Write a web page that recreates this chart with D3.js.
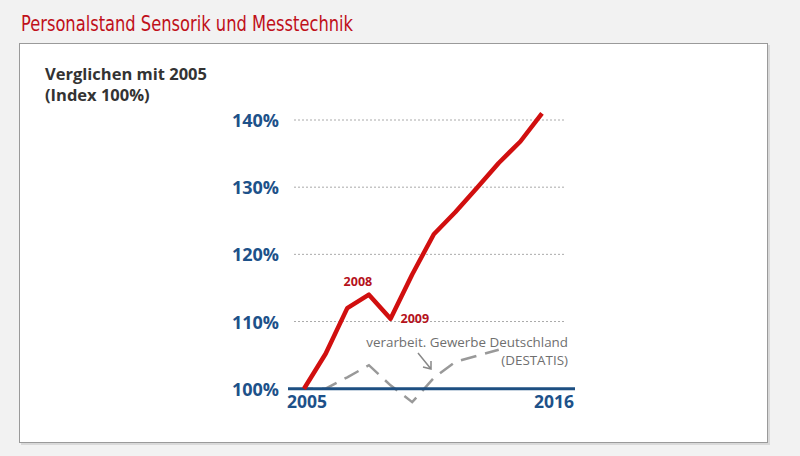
<!DOCTYPE html>
<html>
<head>
<meta charset="utf-8">
<script src="https://cdn.jsdelivr.net/npm/d3@7"></script>
<style>
  body { margin: 0; background: #f2f2f2; }
  svg { display: block; }
</style>
</head>
<body>
<script>
// data
var years = [2005, 2006, 2007, 2008, 2009, 2010, 2011, 2012, 2013, 2014, 2015, 2016];
var sensorik = [100, 105.2, 112, 114, 110.4, 117, 123, 126.3, 129.9, 133.6, 136.8, 141];
var gewerbeYears = [2005, 2006, 2007, 2008, 2009, 2010, 2011, 2012, 2013, 2014];
var gewerbe = [100, 100, 101.7, 103.5, 100.5, 98, 101.6, 104, 104.9, 105.8];
var yTicks = [100, 110, 120, 130, 140];
var xLabels = ["2005", "2016"];

var W = 800, H = 456;
var svg = d3.select("body").append("svg").attr("width", W).attr("height", H);

// background + panel
svg.append("rect").attr("width", W).attr("height", H).attr("fill", "#f2f2f2");
svg.append("rect").attr("x", 21).attr("y", 45).attr("width", 749).attr("height", 400).attr("fill", "#d9d9d9");
svg.append("rect").attr("x", 19.5).attr("y", 43.5).attr("width", 748).attr("height", 399)
    .attr("fill", "#fff").attr("stroke", "#9a9a9a").attr("stroke-width", 1);

// title (condensed look)
svg.append("text")
    .attr("x", 21).attr("y", 31)
    .attr("fill", "#c0101a")
    .attr("font-family", "'Liberation Sans Narrow', 'DejaVu Sans Condensed', sans-serif")
    .attr("font-size", 22)
    .attr("textLength", 332)
    .attr("lengthAdjust", "spacingAndGlyphs")
    .text("Personalstand Sensorik und Messtechnik");

// subtitle
svg.append("text")
    .attr("fill", "#333").attr("font-family", "'Open Sans', sans-serif")
    .attr("font-weight", "bold").attr("font-size", 16.5)
    .selectAll("tspan")
    .data(["Verglichen mit 2005", "(Index 100%)"])
    .enter().append("tspan")
    .attr("x", 45)
    .attr("y", function(d, i){ return 80 + i * 21; })
    .text(function(d){ return d; });

var x = d3.scaleLinear().domain([2005, 2016]).range([304, 542]);
var y = d3.scaleLinear().domain([100, 140]).range([388.7, 120]);

// grid lines
svg.selectAll("line.grid")
    .data(yTicks.filter(function(d){ return d > 100; }))
    .enter().append("line")
    .attr("class", "grid")
    .attr("x1", 294).attr("x2", 564)
    .attr("y1", function(d){ return y(d); })
    .attr("y2", function(d){ return y(d); })
    .attr("stroke", "#aaa").attr("stroke-width", 1)
    .attr("stroke-dasharray", "2,2");

// y tick labels
svg.selectAll("text.ytick")
    .data(yTicks)
    .enter().append("text")
    .attr("class", "ytick")
    .attr("x", 279)
    .attr("y", function(d){ return y(d); })
    .attr("text-anchor", "end")
    .attr("dominant-baseline", "central")
    .attr("fill", "#1d5189")
    .attr("font-family", "'Open Sans', sans-serif")
    .attr("font-weight", "bold").attr("font-size", 18)
    .text(function(d){ return d + "%"; });

// gray dashed line (verarbeitendes Gewerbe)
var grayLine = d3.line()
    .x(function(d, i){ return x(gewerbeYears[i]); })
    .y(function(d){ return y(d); });
svg.append("path")
    .datum(gewerbe)
    .attr("d", grayLine)
    .attr("fill", "none")
    .attr("stroke", "#999")
    .attr("stroke-width", 2.5)
    .attr("stroke-dasharray", "16,9")
    .attr("stroke-dashoffset", -18);

// base axis line
svg.append("line")
    .attr("x1", 288).attr("x2", 575)
    .attr("y1", y(100)).attr("y2", y(100))
    .attr("stroke", "#1d4f82").attr("stroke-width", 3);

// x labels
svg.selectAll("text.xlab")
    .data(xLabels)
    .enter().append("text")
    .attr("class", "xlab")
    .attr("x", function(d, i){ return i === 0 ? 287 : 574; })
    .attr("y", 408)
    .attr("text-anchor", function(d, i){ return i === 0 ? "start" : "end"; })
    .attr("fill", "#1d5189")
    .attr("font-family", "'Open Sans', sans-serif")
    .attr("font-weight", "bold").attr("font-size", 17.5)
    .text(function(d){ return d; });

// red line
var redLine = d3.line()
    .x(function(d, i){ return x(years[i]); })
    .y(function(d){ return y(d); });
svg.append("path")
    .datum(sensorik)
    .attr("d", redLine)
    .attr("fill", "none")
    .attr("stroke", "#d10f0f")
    .attr("stroke-width", 4.5)
    .attr("stroke-linejoin", "round");

// 2008 / 2009 labels
svg.append("text")
    .attr("x", x(2008) - 11).attr("y", y(114) - 9)
    .attr("text-anchor", "middle")
    .attr("fill", "#b5121b")
    .attr("font-family", "'Open Sans', sans-serif")
    .attr("font-weight", "bold").attr("font-size", 12.5)
    .text("2008");
svg.append("text")
    .attr("x", x(2009) + 10).attr("y", y(110.4) + 4)
    .attr("text-anchor", "start")
    .attr("fill", "#b5121b")
    .attr("font-family", "'Open Sans', sans-serif")
    .attr("font-weight", "bold").attr("font-size", 12.5)
    .text("2009");

// annotation
svg.append("text")
    .attr("x", 568).attr("y", 347)
    .attr("text-anchor", "end")
    .attr("fill", "#6f6f6f")
    .attr("font-family", "'Open Sans', sans-serif")
    .attr("font-size", 13.4)
    .text("verarbeit. Gewerbe Deutschland");
svg.append("text")
    .attr("x", 568).attr("y", 365)
    .attr("text-anchor", "end")
    .attr("fill", "#6f6f6f")
    .attr("font-family", "'Open Sans', sans-serif")
    .attr("font-size", 13.4)
    .text("(DESTATIS)");

// arrow
svg.append("path")
    .attr("d", "M418,353 L431,369 M423,367 L431,369 L431,361")
    .attr("fill", "none")
    .attr("stroke", "#888")
    .attr("stroke-width", 1.5);
</script>
</body>
</html>
